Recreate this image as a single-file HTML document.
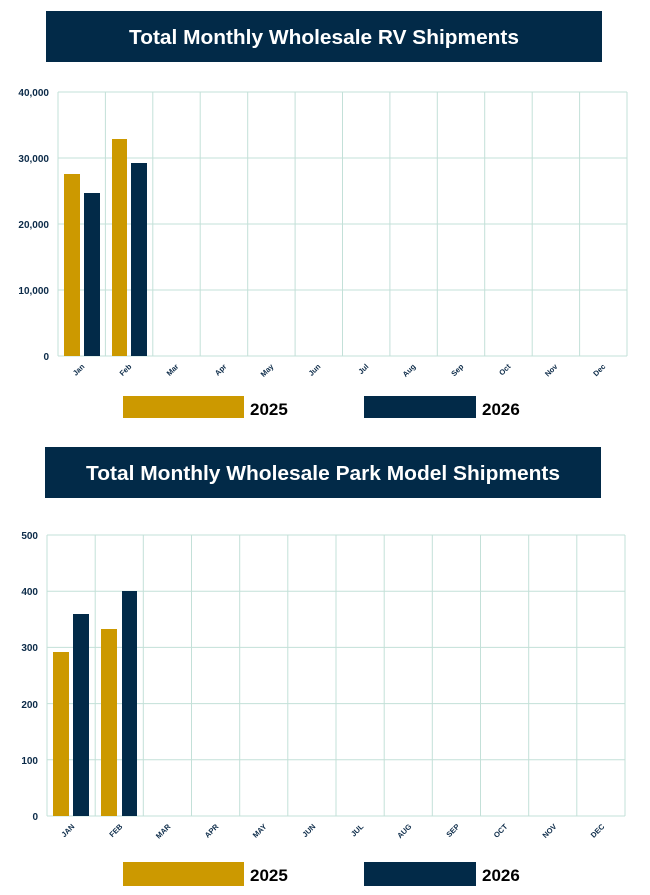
<!DOCTYPE html>
<html><head><meta charset="utf-8"><style>
html,body{margin:0;padding:0;background:#fff;width:650px;height:895px;overflow:hidden}
svg{display:block}
text{font-family:"Liberation Sans",Arial,sans-serif}
</style></head><body>
<svg width="650" height="895" viewBox="0 0 650 895" xmlns="http://www.w3.org/2000/svg">
<!-- Chart 1 -->
<rect x="46" y="11" width="556" height="51" fill="#022a48"/>
<text x="324" y="44" fill="#fff" font-size="20" font-weight="bold" text-anchor="middle" textLength="390" lengthAdjust="spacingAndGlyphs">Total Monthly Wholesale RV Shipments</text>
<g stroke="#c3e0d8" stroke-width="1" fill="none">
<line x1="58" y1="92" x2="627" y2="92"/><line x1="58" y1="158" x2="627" y2="158"/><line x1="58" y1="224" x2="627" y2="224"/><line x1="58" y1="290" x2="627" y2="290"/><line x1="58" y1="356" x2="627" y2="356"/>
<line x1="58" y1="92" x2="58" y2="356"/><line x1="105.4" y1="92" x2="105.4" y2="356"/><line x1="152.8" y1="92" x2="152.8" y2="356"/><line x1="200.2" y1="92" x2="200.2" y2="356"/><line x1="247.7" y1="92" x2="247.7" y2="356"/><line x1="295.1" y1="92" x2="295.1" y2="356"/><line x1="342.5" y1="92" x2="342.5" y2="356"/><line x1="389.9" y1="92" x2="389.9" y2="356"/><line x1="437.3" y1="92" x2="437.3" y2="356"/><line x1="484.7" y1="92" x2="484.7" y2="356"/><line x1="532.2" y1="92" x2="532.2" y2="356"/><line x1="579.6" y1="92" x2="579.6" y2="356"/><line x1="627" y1="92" x2="627" y2="356"/>
</g>
<g fill="#0b2a48" font-size="10" font-weight="bold" text-anchor="end">
<text x="49" y="96">40,000</text><text x="49" y="162">30,000</text><text x="49" y="228">20,000</text><text x="49" y="294">10,000</text><text x="49" y="360">0</text>
</g>
<rect x="64" y="174" width="16" height="182" fill="#cc9900"/>
<rect x="84" y="193" width="16" height="163" fill="#022a48"/>
<rect x="112" y="139" width="15" height="217" fill="#cc9900"/>
<rect x="131" y="163" width="16" height="193" fill="#022a48"/>
<g fill="#0b2a48" font-size="7.5" font-weight="bold" text-anchor="end">
<text transform="translate(85,367) rotate(-45)">Jan</text><text transform="translate(132,367) rotate(-45)">Feb</text><text transform="translate(179,367) rotate(-45)">Mar</text><text transform="translate(227,367) rotate(-45)">Apr</text><text transform="translate(274,367) rotate(-45)">May</text><text transform="translate(321,367) rotate(-45)">Jun</text><text transform="translate(369,367) rotate(-45)">Jul</text><text transform="translate(416,367) rotate(-45)">Aug</text><text transform="translate(464,367) rotate(-45)">Sep</text><text transform="translate(511,367) rotate(-45)">Oct</text><text transform="translate(558,367) rotate(-45)">Nov</text><text transform="translate(606,367) rotate(-45)">Dec</text>
</g>
<rect x="123" y="396" width="121" height="22" fill="#cc9900"/>
<text x="250" y="415" font-size="17" font-weight="bold" fill="#000">2025</text>
<rect x="364" y="396" width="112" height="22" fill="#022a48"/>
<text x="482" y="415" font-size="17" font-weight="bold" fill="#000">2026</text>

<!-- Chart 2 -->
<rect x="45" y="447" width="556" height="51" fill="#022a48"/>
<text x="323" y="480" fill="#fff" font-size="20" font-weight="bold" text-anchor="middle" textLength="474" lengthAdjust="spacingAndGlyphs">Total Monthly Wholesale Park Model Shipments</text>
<g stroke="#c3e0d8" stroke-width="1" fill="none">
<line x1="47" y1="535" x2="625" y2="535"/><line x1="47" y1="591.2" x2="625" y2="591.2"/><line x1="47" y1="647.4" x2="625" y2="647.4"/><line x1="47" y1="703.6" x2="625" y2="703.6"/><line x1="47" y1="759.8" x2="625" y2="759.8"/><line x1="47" y1="816" x2="625" y2="816"/>
<line x1="47" y1="535" x2="47" y2="816"/><line x1="95.2" y1="535" x2="95.2" y2="816"/><line x1="143.3" y1="535" x2="143.3" y2="816"/><line x1="191.5" y1="535" x2="191.5" y2="816"/><line x1="239.7" y1="535" x2="239.7" y2="816"/><line x1="287.8" y1="535" x2="287.8" y2="816"/><line x1="336" y1="535" x2="336" y2="816"/><line x1="384.2" y1="535" x2="384.2" y2="816"/><line x1="432.3" y1="535" x2="432.3" y2="816"/><line x1="480.5" y1="535" x2="480.5" y2="816"/><line x1="528.7" y1="535" x2="528.7" y2="816"/><line x1="576.8" y1="535" x2="576.8" y2="816"/><line x1="625" y1="535" x2="625" y2="816"/>
</g>
<g fill="#0b2a48" font-size="10" font-weight="bold" text-anchor="end">
<text x="38" y="539">500</text><text x="38" y="595">400</text><text x="38" y="651">300</text><text x="38" y="708">200</text><text x="38" y="764">100</text><text x="38" y="820">0</text>
</g>
<rect x="53" y="652" width="16" height="164" fill="#cc9900"/>
<rect x="73" y="614" width="16" height="202" fill="#022a48"/>
<rect x="101" y="629" width="16" height="187" fill="#cc9900"/>
<rect x="122" y="591" width="15" height="225" fill="#022a48"/>
<g fill="#0b2a48" font-size="7.5" font-weight="bold" text-anchor="end">
<text transform="translate(75,827) rotate(-45)">JAN</text><text transform="translate(123,827) rotate(-45)">FEB</text><text transform="translate(171,827) rotate(-45)">MAR</text><text transform="translate(219,827) rotate(-45)">APR</text><text transform="translate(267,827) rotate(-45)">MAY</text><text transform="translate(316,827) rotate(-45)">JUN</text><text transform="translate(364,827) rotate(-45)">JUL</text><text transform="translate(412,827) rotate(-45)">AUG</text><text transform="translate(460,827) rotate(-45)">SEP</text><text transform="translate(508,827) rotate(-45)">OCT</text><text transform="translate(557,827) rotate(-45)">NOV</text><text transform="translate(605,827) rotate(-45)">DEC</text>
</g>
<rect x="123" y="862" width="121" height="24" fill="#cc9900"/>
<text x="250" y="881" font-size="17" font-weight="bold" fill="#000">2025</text>
<rect x="364" y="862" width="112" height="24" fill="#022a48"/>
<text x="482" y="881" font-size="17" font-weight="bold" fill="#000">2026</text>
</svg>
</body></html>
